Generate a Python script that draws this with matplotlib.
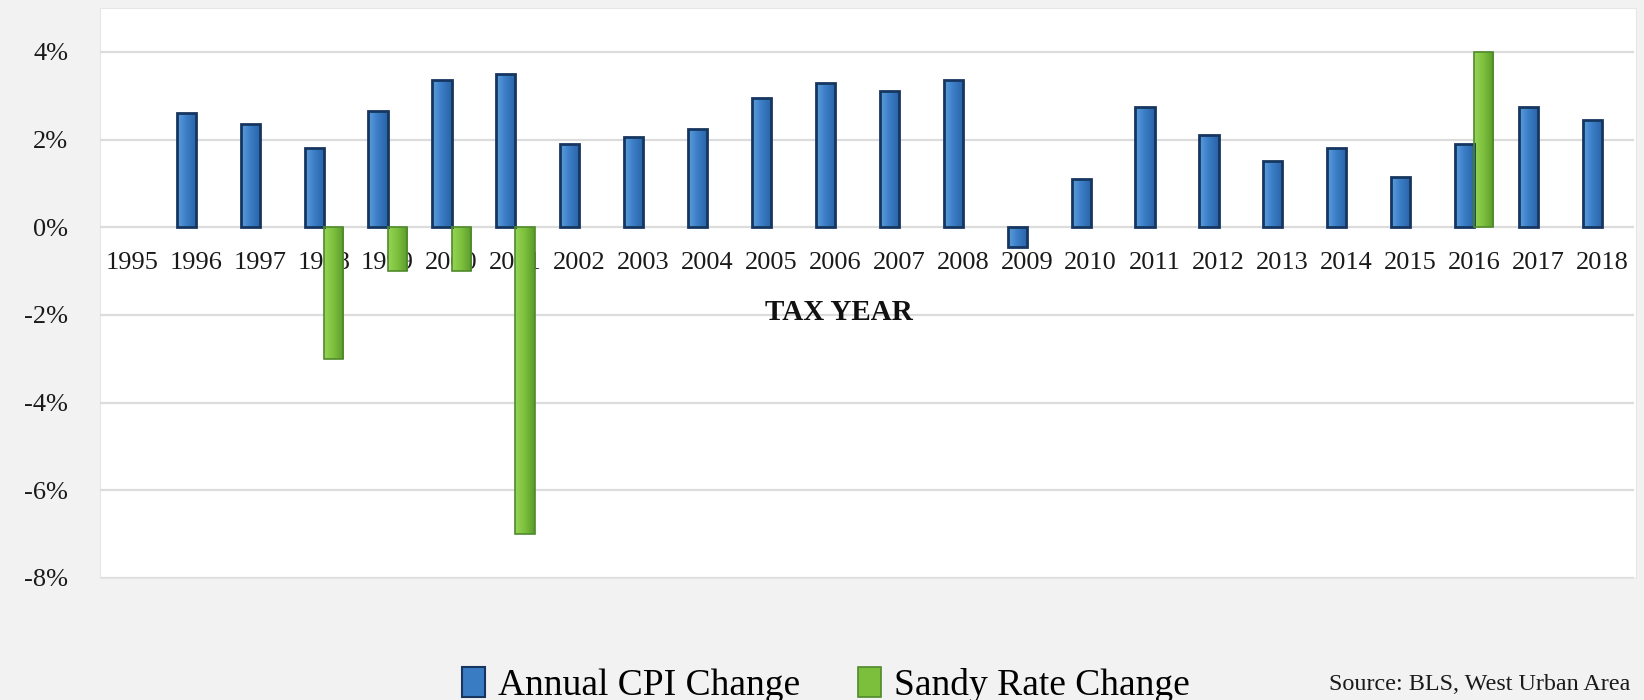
import numpy as np
import matplotlib
matplotlib.use("Agg")
import matplotlib.pyplot as plt
from matplotlib.patches import Patch, Rectangle
from matplotlib.colors import LinearSegmentedColormap

years = ["1995", "1996", "1997", "1998", "1999", "2000", "2001", "2002",
         "2003", "2004", "2005", "2006", "2007", "2008", "2009", "2010",
         "2011", "2012", "2013", "2014", "2015", "2016", "2017", "2018"]
cpi_change = [np.nan, 2.6, 2.35, 1.8, 2.65, 3.35, 3.5, 1.9,
              2.05, 2.25, 2.95, 3.3, 3.1, 3.35, -0.45, 1.1,
              2.75, 2.1, 1.5, 1.8, 1.15, 1.9, 2.75, 2.45]
sandy_change = [0, 0, 0, -3, -1, -1, -7, 0,
                0, 0, 0, 0, 0, 0, 0, 0,
                0, 0, 0, 0, 0, 4, 0, 0]

plt.rcParams['font.family'] = ['Liberation Serif', 'DejaVu Serif']

W, H = 1644, 700
fig = plt.figure(figsize=(W / 100, H / 100), dpi=100, facecolor='#f2f2f2')
# white plot-area panel
fig.patches.append(Rectangle((100 / W, 1 - 578 / H), (1636 - 100) / W, (578 - 8) / H,
                             transform=fig.transFigure, facecolor='white',
                             edgecolor='#e6e6e6', lw=0.8, zorder=-5))
ax = fig.add_axes([100 / W, 1 - 578 / H, (1634 - 100) / W, (578 - 8) / H])
ax.set_facecolor('none')
ax.set_zorder(1)

x = np.arange(len(years))
w = 0.3
sandy = np.array(sandy_change, dtype=float)
sandy[sandy == 0] = np.nan

blue_cmap = LinearSegmentedColormap.from_list('b', ['#5a9ee0', '#3a7cc4', '#2a63a6'])
green_cmap = LinearSegmentedColormap.from_list('g', ['#96d455', '#7cbf3c', '#5a9a2c'])
grad = np.linspace(0, 1, 64).reshape(1, -1)

blue_bars = ax.bar(x - w / 2, cpi_change, w, facecolor='none',
                   edgecolor='#16365f', lw=2.0, zorder=3)
green_bars = ax.bar(x + w / 2, sandy, w, facecolor='none',
                    edgecolor='#4f8a2b', lw=1.2, zorder=3)

for bars, cm in [(blue_bars, blue_cmap), (green_bars, green_cmap)]:
    for p in bars:
        h = p.get_height()
        if np.isnan(h):
            continue
        x0 = p.get_x()
        y0 = p.get_y()
        im = ax.imshow(grad, cmap=cm, aspect='auto', zorder=2.9,
                       extent=(x0, x0 + p.get_width(), y0, y0 + h))
        im.set_clip_path(p)

ax.set_xlim(-0.5, len(years) - 0.5)
ax.set_ylim(-8, 5)
ax.set_yticks(np.arange(-8, 5, 2))
ax.set_yticklabels([f"{v}%" for v in range(-8, 5, 2)])
ax.set_xticks(x)
ax.set_xticklabels(years)

ax.grid(axis='y', color='#dcdcdc', lw=1.6)
ax.set_axisbelow(True)
for s in ax.spines.values():
    s.set_visible(False)
ax.spines['bottom'].set_position(('data', 0))
ax.tick_params(axis='x', length=0, pad=18, labelsize=19, colors='#1a1a1a')
ax.tick_params(axis='y', length=0, pad=23, labelsize=19, colors='#1a1a1a')

fig.text(839 / W, 1 - 312 / H, "TAX YEAR", ha='center', va='center',
         fontsize=21, fontweight='bold', color='#111111')

handles = [Patch(facecolor='#3a7cc4', edgecolor='#16365f', lw=1.5, label='Annual CPI Change'),
           Patch(facecolor='#7cbf3c', edgecolor='#4f8a2b', lw=1.2, label='Sandy Rate Change')]
fig.legend(handles=handles, loc='center', bbox_to_anchor=(826 / W, 1 - 685 / H),
           ncol=2, frameon=False, fontsize=27, handlelength=0.6, handleheight=0.85,
           handletextpad=0.35, columnspacing=1.55, borderpad=0)

fig.text(1630 / W, 1 - 685 / H, "Source: BLS, West Urban Area", ha='right',
         va='center', fontsize=17.4, color='#1a1a1a')

fig.savefig("out.png", dpi=100, facecolor=fig.get_facecolor())
